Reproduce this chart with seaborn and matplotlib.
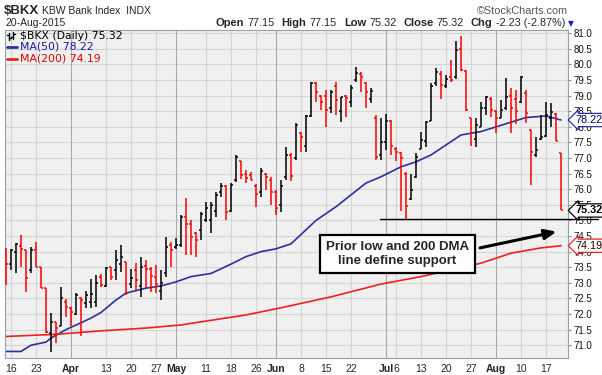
import matplotlib
matplotlib.use("Agg")
import matplotlib.pyplot as plt
import matplotlib.transforms as mtransforms
import seaborn as sns
import pandas as pd

# trading days 13-Mar-2015 .. 20-Aug-2015
holidays = ['2015-04-03', '2015-05-25', '2015-07-03']
dates = [d.strftime('%Y-%m-%d') for d in pd.bdate_range('2015-03-13', '2015-08-20')
         if d.strftime('%Y-%m-%d') not in holidays]

opens = [74.1, 73.6, 74.0, 74.18, 74.06, 73.4, 74.05, 73.5, 72.83, 71.4,
         71.75, 71.6, 72.4, 72.2, 72.0, 72.5, 72.35, 72.4, 72.4, 73.2,
         72.9, 73.5, 73.4, 73.6, 73.68, 72.95, 73.4, 72.9, 73.55, 73.45,
         73.2, 72.75, 73.3, 74.2, 74.16, 74.2, 75.1, 74.9, 74.6, 74.7,
         75.0, 75.0, 75.3, 75.9, 76.1, 75.3, 76.3, 76.9, 76.5, 76.45,
         76.1, 75.9, 76.5, 76.3, 75.9, 75.5, 76.4, 77.1, 77.0, 77.8,
         77.4, 78.35, 79.4, 79.0, 79.0, 78.6, 79.3, 78.5, 79.0, 78.8,
         79.5, 79.7, 79.4, 78.9, 78.3, 77.1, 77.5, 78.2, 77.3, 77.15,
         76.5, 75.7, 76.4, 77.3, 77.55, 78.2, 79.4, 79.7, 79.3, 79.6,
         79.6, 80.5, 79.8, 78.3, 77.6, 78.0, 78.6, 78.9, 78.5, 78.3,
         78.6, 79.0, 78.9, 78.8, 79.1, 77.9, 77.1, 77.6, 77.7, 78.3,
         78.4, 77.15]
highs = [74.11, 74.09, 74.27, 74.54, 74.06, 74.16, 74.32, 73.5, 72.83, 72.03,
         71.75, 72.88, 72.47, 72.22, 72.68, 72.55, 72.75, 73.11, 73.25, 73.28,
         73.52, 73.52, 74.05, 74.2, 73.68, 73.45, 73.62, 73.84, 73.73, 73.52,
         73.57, 73.41, 74.48, 74.32, 74.43, 75.17, 75.71, 75.0, 74.64, 75.28,
         75.6, 75.6, 75.92, 76.19, 76.14, 76.19, 77.1, 76.92, 76.62, 76.56,
         76.17, 76.67, 76.51, 76.4, 75.98, 76.3, 77.37, 77.15, 78.11, 77.85,
         78.38, 79.45, 79.45, 79.02, 79.18, 79.18, 79.45, 78.97, 79.02, 79.34,
         79.93, 79.77, 79.45, 79.24, 78.38, 78.27, 78.4, 78.22, 77.35, 77.2,
         76.55, 76.5, 77.15, 77.85, 78.2, 79.4, 79.9, 79.8, 79.65, 80.15,
         80.75, 80.9, 79.82, 78.3, 78.3, 78.81, 79.0, 78.97, 78.54, 78.86,
         79.56, 79.24, 79.18, 79.63, 79.18, 77.9, 77.69, 78.38, 78.81, 78.76,
         78.43, 77.15]
lows = [72.93, 73.42, 73.31, 73.52, 72.69, 73.31, 73.5, 72.83, 71.4, 70.77,
        71.07, 71.6, 71.92, 71.6, 71.97, 71.3, 72.2, 72.19, 72.24, 72.88,
        72.88, 73.09, 73.09, 73.36, 72.61, 72.82, 72.77, 72.56, 72.82, 72.72,
        72.66, 72.45, 73.2, 73.52, 74.1, 74.16, 73.89, 73.89, 73.84, 74.37,
        74.96, 74.6, 75.12, 75.76, 75.02, 75.28, 76.24, 76.32, 76.19, 76.3,
        75.44, 75.76, 75.98, 75.5, 75.18, 75.28, 76.3, 76.25, 76.94, 77.21,
        77.21, 78.33, 78.81, 78.54, 78.01, 78.43, 78.38, 78.17, 78.33, 78.65,
        79.45, 79.13, 78.6, 78.76, 76.94, 76.94, 77.26, 77.1, 76.9, 75.3,
        75.05, 75.66, 76.35, 77.3, 77.35, 78.2, 79.3, 78.9, 79.25, 79.45,
        79.55, 79.8, 78.5, 77.4, 77.37, 78.0, 78.38, 78.33, 77.79, 78.27,
        78.54, 77.79, 78.08, 78.76, 78.11, 76.14, 77.05, 77.58, 77.69, 78.0,
        77.55, 75.32]
closes = [73.6, 74.05, 74.24, 74.09, 73.15, 74.06, 73.5, 72.83, 71.42, 71.75,
          71.55, 72.5, 72.24, 72.08, 72.6, 72.45, 72.6, 72.65, 73.0, 72.93,
          73.47, 73.2, 73.73, 73.84, 72.66, 73.15, 73.1, 73.52, 73.43, 73.22,
          72.95, 73.0, 74.16, 74.05, 74.2, 75.1, 74.9, 74.48, 74.37, 75.2,
          75.4, 75.5, 75.8, 76.1, 75.28, 76.15, 77.05, 76.46, 76.35, 76.3,
          75.85, 76.6, 76.4, 75.9, 75.4, 76.1, 77.1, 76.43, 78.05, 77.69,
          78.35, 79.4, 79.13, 78.81, 78.54, 79.13, 78.86, 78.95, 78.92, 79.24,
          79.72, 79.61, 79.13, 79.15, 77.05, 77.5, 78.2, 77.4, 77.2, 77.0,
          75.45, 75.98, 77.05, 77.58, 78.15, 79.3, 79.75, 79.35, 79.55, 79.5,
          80.45, 79.82, 78.55, 77.8, 78.05, 78.6, 78.95, 78.54, 78.27, 78.54,
          78.97, 78.6, 78.5, 79.6, 78.43, 77.21, 77.25, 77.69, 78.38, 78.49,
          77.55, 75.32]

# moving averages (bar index, value)
ma50_idx = [0, 3, 5, 8, 9, 12, 15, 17, 19, 22, 24, 28, 31, 34, 37, 41, 45, 48, 51,
            54, 57, 60, 62, 66, 69, 72, 75, 79, 82, 85, 88, 91, 95, 98, 102, 104, 108, 111]
ma50_val = [70.8, 70.8, 71.0, 71.1, 71.23, 71.5, 71.72, 71.87, 72.05, 72.45, 72.67, 72.83,
            72.9, 73.03, 73.2, 73.3, 73.6, 73.84, 74.0, 74.09, 74.25, 74.7, 75.0, 75.44,
            75.82, 76.2, 76.4, 76.72, 76.88, 77.1, 77.42, 77.74, 77.85, 78.0, 78.2, 78.3,
            78.35, 78.22]
ma200_idx = [0, 10, 19, 28, 35, 48, 55, 65, 75, 83, 95, 101, 107, 111]
ma200_val = [71.28, 71.35, 71.46, 71.55, 71.65, 71.97, 72.2, 72.55, 72.96, 73.2, 73.63,
             73.95, 74.12, 74.19]

support = 75.05
change = '-2.23 (-2.87%)'
tick_dates = ['2015-03-16', '2015-03-23', '2015-04-01', '2015-04-13', '2015-04-20',
              '2015-04-27', '2015-05-01', '2015-05-11', '2015-05-18', '2015-05-26',
              '2015-06-01', '2015-06-08', '2015-06-15', '2015-06-22', '2015-07-01',
              '2015-07-06', '2015-07-13', '2015-07-20', '2015-07-27', '2015-08-03',
              '2015-08-10', '2015-08-17']
tick_labels = ['16', '23', 'Apr', '13', '20', '27', 'May', '11', '18', '26', 'Jun',
               '8', '15', '22', 'Jul', '6', '13', '20', '27', 'Aug', '10', '17']
months = ['Apr', 'May', 'Jun', 'Jul', 'Aug']

sns.set_style('white')
plt.rcParams['font.family'] = ['Liberation Sans', 'DejaVu Sans']

W, H = 602, 375
fig = plt.figure(figsize=(W / 100, H / 100), dpi=100)
ax = fig.add_axes([5 / W, 1 - 358 / H, 563 / W, 328 / H])
ax.set_facecolor('#f0f0f0')
ax.set_xlim(-0.2, 112.4)
ax.set_ylim(70.59, 81.106)

# grid
yt = [71 + 0.5 * k for k in range(21)]
ax.set_yticks(yt)
ax.set_yticklabels([f'{v:.1f}' for v in yt])
for v in yt:
    ax.axhline(v, color='#d6d6d6', lw=0.8, zorder=0)
pos = [dates.index(d) for d in tick_dates]
for p, lab in zip(pos, tick_labels):
    ax.axvline(p, color='#a9a9a9' if lab in months else '#d6d6d6', lw=0.8, zorder=0)

ax.yaxis.tick_right()
ax.tick_params(axis='y', labelsize=7, length=2, pad=2, color='#888888', labelcolor='#111111')
ax.set_xticks(pos)
ax.set_xticklabels(tick_labels)
for t in ax.get_xticklabels():
    t.set_fontsize(7.5)
    if t.get_text() in months:
        t.set_fontweight('bold')
ax.set_xticks(range(len(dates)), minor=True)
ax.tick_params(axis='x', which='major', length=0, pad=4)
ax.tick_params(axis='x', which='minor', length=1.5, width=0.6, color='#999999')
for s in ax.spines.values():
    s.set_color('#8fa3ab')
    s.set_linewidth(0.8)

# moving averages
sns.lineplot(x=ma50_idx, y=ma50_val, color='#2f2f9f', lw=1.2, ax=ax, zorder=2)
sns.lineplot(x=ma200_idx, y=ma200_val, color='#ee2020', lw=1.2, ax=ax, zorder=2)

# OHLC bars
idx = list(range(len(dates)))
colors = ['red' if (i == 0 or closes[i] < closes[i - 1]) else 'black' for i in idx]
ax.vlines(idx, lows, highs, colors=colors, lw=1.1, zorder=3)
ax.hlines(opens, [i - 0.45 for i in idx], idx, colors=colors, lw=1.1, zorder=3)
ax.hlines(closes, idx, [i + 0.45 for i in idx], colors=colors, lw=1.1, zorder=3)

# support line, note, arrow
ax.plot([74.8, 118.4], [support, support], color='black', lw=1, clip_on=False, zorder=4)
ax.text(78.3, 73.92, 'Prior low and 200 DMA\nline define support', ha='center', va='center',
        fontsize=9.5, fontweight='bold', linespacing=1.25, zorder=5,
        bbox=dict(boxstyle='square,pad=0.45', fc='white', ec='black', lw=1.6))
ax.annotate('', xy=(110.1, 74.64), xytext=(94.8, 74.12), zorder=5,
            arrowprops=dict(arrowstyle='-|>,head_length=0.7,head_width=0.3', color='black',
                            lw=2.2, shrinkA=0, shrinkB=0))

# right-hand value tags
tr = mtransforms.blended_transform_factory(ax.transAxes, ax.transData)
tags = [(ma50_val[-1], '#2f2f9f', '#000066', 'normal'),
        (closes[-1], 'black', 'black', 'bold'),
        (ma200_val[-1], '#ee2020', '#220000', 'normal')]
for val, ec, tc, fw in tags:
    ax.text(1.013, val, f'{val:.2f}', transform=tr, ha='left', va='center', fontsize=7.8,
            color=tc, fontweight=fw, clip_on=False, zorder=6,
            bbox=dict(boxstyle='larrow,pad=0.15', fc='white', ec=ec, lw=0.9))

# legend inside the plot
ta = ax.transAxes
ax.plot([0.0071, 0.0071], [0.9695, 0.991], color='black', lw=1, transform=ta)
ax.plot([0.0036, 0.0071], [0.985, 0.985], color='black', lw=1, transform=ta)
ax.plot([0.0071, 0.0107], [0.975, 0.975], color='black', lw=1, transform=ta)
ax.plot([0.0142, 0.0142], [0.9725, 0.994], color='black', lw=1, transform=ta)
ax.plot([0.0107, 0.0142], [0.978, 0.978], color='black', lw=1, transform=ta)
ax.plot([0.0142, 0.0178], [0.989, 0.989], color='black', lw=1, transform=ta)
ax.plot([0.0036, 0.0213], [0.949, 0.949], color='#2f2f9f', lw=2, transform=ta)
ax.plot([0.0036, 0.0213], [0.9125, 0.9125], color='#ee2020', lw=2, transform=ta)
leg = [(0.9826, f'$BKX (Daily) {closes[-1]:.2f}', 'black'),
       (0.949, f'MA(50) {ma50_val[-1]:.2f}', '#1a1aa0'),
       (0.9125, f'MA(200) {ma200_val[-1]:.2f}', '#e00000')]
for yy, txt, c in leg:
    ax.text(0.0266, yy, txt, transform=ta, ha='left', va='center', fontsize=7.8,
            color=c, family='DejaVu Sans')

# header
def px(x, y):
    return x / W, 1 - y / H

fig.text(*px(4, 11), '$BKX', fontsize=9.5, fontweight='bold', va='center', ha='left')
fig.text(*px(42, 11), 'KBW Bank Index  INDX', fontsize=7.5, va='center', ha='left')
fig.text(*px(5, 23.3), '20-Aug-2015', fontsize=7.5, va='center', ha='left')
fig.text(*px(568, 10.7), '\u00a9StockCharts.com', fontsize=7.8, va='center', ha='right',
         color='#555555')

# quote line: laid out left to right, measured so pieces do not collide
header = [('Open', f'{opens[-1]:.2f}'), ('High', f'{highs[-1]:.2f}'),
          ('Low', f'{lows[-1]:.2f}'), ('Close', f'{closes[-1]:.2f}'), ('Chg', change)]
renderer = fig.canvas.get_renderer()
x = 216
for lab, val in header:
    t = fig.text(*px(x, 23.3), lab, fontsize=8, fontweight='bold', va='center', ha='left')
    x += t.get_window_extent(renderer).width + 3
    t = fig.text(*px(x, 23.3), val, fontsize=7.8, va='center', ha='left')
    x += t.get_window_extent(renderer).width + 7
fig.text(*px(x - 1, 24), '\u25bc', fontsize=5.5, va='center', ha='center', color='#1a1acc',
         family='DejaVu Sans')

fig.savefig('out.png', dpi=100)
